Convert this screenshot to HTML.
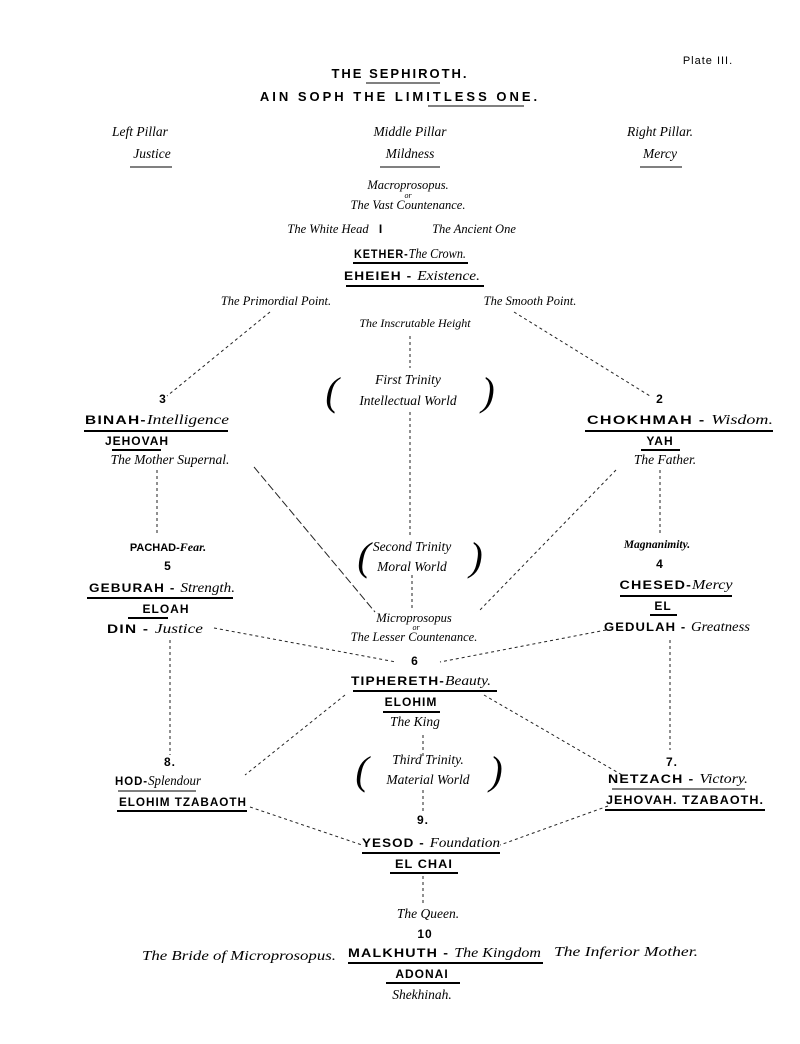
<!DOCTYPE html>
<html><head><meta charset="utf-8"><style>
html,body{margin:0;padding:0;background:#fff;}
svg{display:block}
.s{font-family:"Liberation Sans",sans-serif;font-size:12px;font-weight:bold;letter-spacing:1px}
.i{font-family:"Liberation Serif",serif;font-style:italic;font-size:13.5px}
.sm{font-family:"Liberation Serif",serif;font-style:italic;font-size:8px}
.p{font-family:"Liberation Serif",serif;font-style:italic;font-size:40px;font-weight:normal}
line.d{stroke:#222;stroke-width:1;stroke-dasharray:3,3}
line.u{stroke:#000;stroke-width:2}
</style></head><body>
<svg width="800" height="1044" viewBox="0 0 800 1044" xmlns="http://www.w3.org/2000/svg" text-anchor="middle">
<text x="708" y="64" class="s" style="font-weight:normal;font-size:11px">Plate III.</text>
<text x="400" y="78" class="s" style="font-size:13px;letter-spacing:2px">THE SEPHIROTH.</text>
<line class="u" x1="366" y1="83" x2="440" y2="83" style="stroke-width:1"/>
<text x="400" y="101" class="s" style="font-size:13px;letter-spacing:3px">AIN SOPH THE LIMITLESS ONE.</text>
<line class="u" x1="428" y1="106" x2="524" y2="106" style="stroke-width:1"/>

<text x="140" y="136" class="i">Left Pillar</text>
<text x="152" y="158" class="i">Justice</text>
<line class="u" x1="130" y1="167" x2="172" y2="167" style="stroke-width:1"/>
<text x="410" y="136" class="i">Middle Pillar</text>
<text x="410" y="158" class="i">Mildness</text>
<line class="u" x1="380" y1="167" x2="440" y2="167" style="stroke-width:1"/>
<text x="660" y="136" class="i">Right Pillar.</text>
<text x="660" y="158" class="i">Mercy</text>
<line class="u" x1="640" y1="167" x2="682" y2="167" style="stroke-width:1"/>

<text x="408" y="189" class="i" style="font-size:12.5px">Macroprosopus.</text>
<text x="408" y="198" class="sm">or</text>
<text x="408" y="209" class="i" style="font-size:12.5px">The Vast Countenance.</text>
<text x="328" y="233" class="i" style="font-size:12.5px">The White Head</text>
<text x="381" y="233" class="s">I</text>
<text x="474" y="233" class="i" style="font-size:12.5px">The Ancient One</text>
<text x="410" y="258" textLength="112" lengthAdjust="spacingAndGlyphs"><tspan class="s">KETHER-</tspan><tspan class="i">The Crown.</tspan></text>
<line class="u" x1="353" y1="263" x2="468" y2="263"/>
<text x="412" y="280" textLength="136" lengthAdjust="spacingAndGlyphs"><tspan class="s">EHEIEH - </tspan><tspan class="i">Existence.</tspan></text>
<line class="u" x1="346" y1="286" x2="484" y2="286"/>
<text x="276" y="305" class="i" style="font-size:12.5px">The Primordial Point.</text>
<text x="530" y="305" class="i" style="font-size:12.5px">The Smooth Point.</text>
<text x="415" y="327" class="i" style="font-size:12px">The Inscrutable Height</text>

<line class="d" x1="270" y1="312" x2="167" y2="396"/>
<line class="d" x1="514" y1="312" x2="650" y2="396"/>
<line class="d" x1="410" y1="336" x2="410" y2="368"/>
<line class="d" x1="410" y1="412" x2="410" y2="535"/>
<line class="d" x1="157" y1="470" x2="157" y2="535"/>
<line class="d" x1="660" y1="470" x2="660" y2="535"/>
<line class="d" x1="254" y1="467" x2="375" y2="612" style="stroke-dasharray:8,3"/>
<line class="d" x1="616" y1="470" x2="478" y2="612"/>
<line class="d" x1="412" y1="575" x2="412" y2="610"/>

<text x="408" y="384" class="i">First Trinity</text>
<text x="408" y="405" class="i">Intellectual  World</text>
<text x="332" y="405" class="p">(</text>
<text x="488" y="405" class="p">)</text>

<text x="163" y="403" class="s">3</text>
<text x="157" y="424" textLength="144" lengthAdjust="spacingAndGlyphs"><tspan class="s">BINAH-</tspan><tspan class="i">Intelligence</tspan></text>
<line class="u" x1="84" y1="431" x2="228" y2="431"/>
<text x="137" y="445" class="s">JEHOVAH</text>
<line class="u" x1="112" y1="450" x2="161" y2="450"/>
<text x="170" y="464" class="i">The Mother Supernal.</text>

<text x="660" y="403" class="s">2</text>
<text x="680" y="424" textLength="186" lengthAdjust="spacingAndGlyphs"><tspan class="s">CHOKHMAH - </tspan><tspan class="i">Wisdom.</tspan></text>
<line class="u" x1="585" y1="431" x2="773" y2="431"/>
<text x="660" y="445" class="s">YAH</text>
<line class="u" x1="641" y1="450" x2="680" y2="450"/>
<text x="665" y="464" class="i">The Father.</text>

<text x="168" y="551" class="s" style="font-size:11px;letter-spacing:0">PACHAD-<tspan class="i" style="font-size:12px;font-weight:bold">Fear.</tspan></text>
<text x="168" y="570" class="s">5</text>
<text x="162" y="592" textLength="146" lengthAdjust="spacingAndGlyphs"><tspan class="s">GEBURAH - </tspan><tspan class="i">Strength.</tspan></text>
<line class="u" x1="87" y1="598" x2="233" y2="598"/>
<text x="166" y="613" class="s">ELOAH</text>
<line class="u" x1="128" y1="618" x2="168" y2="618"/>
<text x="155" y="633" textLength="96" lengthAdjust="spacingAndGlyphs"><tspan class="s">DIN - </tspan><tspan class="i">Justice</tspan></text>

<text x="412" y="551" class="i">Second Trinity</text>
<text x="412" y="571" class="i">Moral World</text>
<text x="364" y="570" class="p">(</text>
<text x="476" y="570" class="p">)</text>

<text x="657" y="548" class="i" style="font-size:11.5px;font-weight:bold">Magnanimity.</text>
<text x="660" y="568" class="s">4</text>
<text x="676" y="589" textLength="113" lengthAdjust="spacingAndGlyphs"><tspan class="s">CHESED-</tspan><tspan class="i">Mercy</tspan></text>
<line class="u" x1="620" y1="596" x2="732" y2="596"/>
<text x="663" y="610" class="s">EL</text>
<line class="u" x1="650" y1="615" x2="677" y2="615"/>
<text x="677" y="631" textLength="146" lengthAdjust="spacingAndGlyphs"><tspan class="s">GEDULAH - </tspan><tspan class="i">Greatness</tspan></text>

<text x="414" y="622" class="i" style="font-size:12.5px">Microprosopus</text>
<text x="416" y="630" class="sm">or</text>
<text x="414" y="641" class="i" style="font-size:12.5px">The Lesser Countenance.</text>

<line class="d" x1="214" y1="628" x2="396" y2="662"/>
<line class="d" x1="606" y1="630" x2="440" y2="662"/>
<line class="d" x1="170" y1="640" x2="170" y2="755"/>
<line class="d" x1="670" y1="640" x2="670" y2="750"/>

<text x="415" y="665" class="s">6</text>
<text x="421" y="685" textLength="140" lengthAdjust="spacingAndGlyphs"><tspan class="s">TIPHERETH-</tspan><tspan class="i">Beauty.</tspan></text>
<line class="u" x1="353" y1="691" x2="497" y2="691"/>
<text x="411" y="706" class="s">ELOHIM</text>
<line class="u" x1="383" y1="712" x2="440" y2="712"/>
<text x="415" y="726" class="i">The King</text>

<line class="d" x1="345" y1="695" x2="245" y2="775"/>
<line class="d" x1="484" y1="695" x2="622" y2="775"/>
<line class="d" x1="423" y1="735" x2="423" y2="758"/>
<line class="d" x1="423" y1="790" x2="423" y2="812"/>

<text x="428" y="764" class="i">Third Trinity.</text>
<text x="428" y="784" class="i">Material World</text>
<text x="362" y="784" class="p">(</text>
<text x="496" y="784" class="p">)</text>

<text x="170" y="766" class="s">8.</text>
<text x="158" y="785" textLength="86" lengthAdjust="spacingAndGlyphs"><tspan class="s">HOD-</tspan><tspan class="i">Splendour</tspan></text>
<line class="u" x1="118" y1="791" x2="196" y2="791" style="stroke-width:1"/>
<text x="183" y="806" class="s" textLength="128" lengthAdjust="spacingAndGlyphs">ELOHIM TZABAOTH</text>
<line class="u" x1="117" y1="811" x2="247" y2="811"/>

<text x="672" y="766" class="s">7.</text>
<text x="678" y="783" textLength="140" lengthAdjust="spacingAndGlyphs"><tspan class="s">NETZACH - </tspan><tspan class="i">Victory.</tspan></text>
<line class="u" x1="612" y1="789" x2="745" y2="789" style="stroke-width:1"/>
<text x="685" y="804" class="s" textLength="158" lengthAdjust="spacingAndGlyphs">JEHOVAH. TZABAOTH.</text>
<line class="u" x1="605" y1="810" x2="765" y2="810"/>

<line class="d" x1="250" y1="807" x2="362" y2="845"/>
<line class="d" x1="608" y1="806" x2="500" y2="845"/>

<text x="423" y="824" class="s">9.</text>
<text x="431" y="847" textLength="138" lengthAdjust="spacingAndGlyphs"><tspan class="s">YESOD - </tspan><tspan class="i">Foundation</tspan></text>
<line class="u" x1="362" y1="853" x2="500" y2="853"/>
<text x="424" y="868" class="s" textLength="58" lengthAdjust="spacingAndGlyphs">EL CHAI</text>
<line class="u" x1="390" y1="873" x2="458" y2="873"/>
<line class="d" x1="423" y1="876" x2="423" y2="905"/>

<text x="428" y="918" class="i">The Queen.</text>
<text x="425" y="938" class="s">10</text>
<text x="142" y="960" class="i" text-anchor="start" style="font-size:14px" textLength="194" lengthAdjust="spacingAndGlyphs">The Bride of Microprosopus.</text>
<text x="348" y="957" text-anchor="start" textLength="193" lengthAdjust="spacingAndGlyphs"><tspan class="s">MALKHUTH - </tspan><tspan class="i">The Kingdom</tspan></text>
<line class="u" x1="348" y1="963" x2="543" y2="963"/>
<text x="554" y="956" class="i" text-anchor="start" style="font-size:14px" textLength="144" lengthAdjust="spacingAndGlyphs">The Inferior Mother.</text>
<text x="422" y="978" class="s">ADONAI</text>
<line class="u" x1="386" y1="983" x2="460" y2="983"/>
<text x="422" y="999" class="i">Shekhinah.</text>
</svg>
</body></html>
